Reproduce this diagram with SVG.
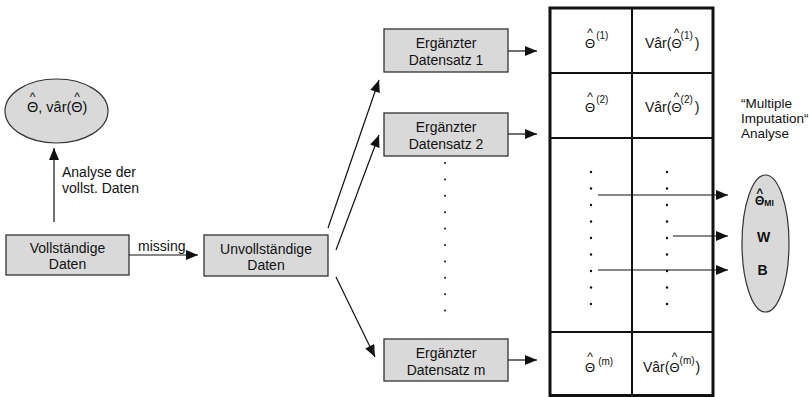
<svg xmlns="http://www.w3.org/2000/svg" width="809" height="397" viewBox="0 0 809 397">
<style>
text{font-family:"Liberation Sans",Arial,sans-serif;fill:#111}
.box{fill:#d9d9d9;stroke:#333;stroke-width:1.3}
.ell{fill:#d9d9d9;stroke:#333;stroke-width:1.2}
.lbl{font-size:14px;text-anchor:middle}
.conn{stroke:#111;stroke-width:1.2;fill:none;marker-end:url(#ah)}
.grid{stroke:#111;stroke-width:2;fill:none}
.cell{font-size:14px}
.th{font-size:13px}
.sup{font-size:10px}
.hat{font-size:12px;text-anchor:middle}
.dot{fill:#111}
.b{font-weight:bold}
</style>
<defs>
<marker id="ah" viewBox="0 0 12 10" refX="12" refY="5" markerWidth="13" markerHeight="10" orient="auto" markerUnits="userSpaceOnUse">
<path d="M0,0 L12,5 L0,10 z" fill="#111"/>
</marker>
</defs>

<g id="complete-estimate">
<ellipse class="ell" cx="56.5" cy="111" rx="51.5" ry="32"/>
<text x="27" y="112" font-size="14.5">Θ, vâr(Θ)</text>
<text class="hat" x="32.6" y="101" font-size="13">^</text>
<text class="hat" x="77" y="101" font-size="13">^</text>
</g>

<g id="analysis-label">
<text x="62" y="177" font-size="14">Analyse der</text>
<text x="62" y="193" font-size="14">vollst. Daten</text>
</g>

<g id="complete-data">
<rect class="box" x="6" y="235" width="123" height="40"/>
<text class="lbl" x="67.5" y="253">Vollständige</text>
<text class="lbl" x="67.5" y="269">Daten</text>
</g>

<g id="incomplete-data">
<rect class="box" x="204" y="235" width="124" height="41"/>
<text class="lbl" x="266" y="254">Unvollständige</text>
<text class="lbl" x="266" y="270">Daten</text>
</g>

<g id="imputed-1">
<rect class="box" x="384" y="29" width="124" height="43"/>
<text class="lbl" x="446" y="48">Ergänzter</text>
<text class="lbl" x="446" y="65">Datensatz 1</text>
</g>

<g id="imputed-2">
<rect class="box" x="384" y="113" width="124" height="43"/>
<text class="lbl" x="446" y="132">Ergänzter</text>
<text class="lbl" x="446" y="149">Datensatz 2</text>
</g>

<g id="imputed-m">
<rect class="box" x="384" y="339" width="124" height="42"/>
<text class="lbl" x="446" y="357.5">Ergänzter</text>
<text class="lbl" x="446" y="374.5">Datensatz m</text>
</g>

<g id="ellipsis-dots">
<circle class="dot" cx="445" cy="163" r="1"/>
<circle class="dot" cx="445" cy="179.4" r="1"/>
<circle class="dot" cx="445" cy="195.8" r="1"/>
<circle class="dot" cx="445" cy="212.2" r="1"/>
<circle class="dot" cx="445" cy="228.6" r="1"/>
<circle class="dot" cx="445" cy="245" r="1"/>
<circle class="dot" cx="445" cy="261.4" r="1"/>
<circle class="dot" cx="445" cy="277.8" r="1"/>
<circle class="dot" cx="445" cy="294.2" r="1"/>
<circle class="dot" cx="445" cy="310.6" r="1"/>
</g>

<g id="results-table">
<rect x="550" y="8" width="163" height="387.5" fill="#fff" stroke="#111" stroke-width="3"/>
<line class="grid" x1="632" y1="8" x2="632" y2="395.5"/>
<line class="grid" x1="550" y1="73" x2="713" y2="73"/>
<line class="grid" x1="550" y1="138" x2="713" y2="138"/>
<line class="grid" x1="550" y1="332" x2="713" y2="332"/>

<text class="cell" x="585" y="48"><tspan class="th">Θ</tspan><tspan class="sup" dx="1" dy="-9">(1)</tspan></text>
<text class="hat" x="590" y="37">^</text>
<text class="cell" x="645" y="48">Vâr(<tspan class="th">Θ</tspan><tspan class="sup" dx="-1" dy="-9">(1)</tspan><tspan dx="2" dy="9">)</tspan></text>
<text class="hat" x="676.5" y="37">^</text>

<text class="cell" x="585" y="112"><tspan class="th">Θ</tspan><tspan class="sup" dx="1" dy="-9">(2)</tspan></text>
<text class="hat" x="590" y="101">^</text>
<text class="cell" x="645" y="112">Vâr(<tspan class="th">Θ</tspan><tspan class="sup" dx="-1" dy="-9">(2)</tspan><tspan dx="2" dy="9">)</tspan></text>
<text class="hat" x="676.5" y="101">^</text>

<text class="cell" x="585" y="372"><tspan class="th">Θ</tspan><tspan class="sup" dx="3" dy="-7">(m)</tspan></text>
<text class="hat" x="590" y="361">^</text>
<text class="cell" x="643" y="372">Vâr(<tspan class="th">Θ</tspan><tspan class="sup" dy="-8">(m)</tspan><tspan dx="1" dy="8">)</tspan></text>
<text class="hat" x="674.5" y="361">^</text>

<circle class="dot" cx="591" cy="172" r="1.2"/>
<circle class="dot" cx="591" cy="188.5" r="1.2"/>
<circle class="dot" cx="591" cy="205" r="1.2"/>
<circle class="dot" cx="591" cy="221.5" r="1.2"/>
<circle class="dot" cx="591" cy="238" r="1.2"/>
<circle class="dot" cx="591" cy="254.5" r="1.2"/>
<circle class="dot" cx="591" cy="271" r="1.2"/>
<circle class="dot" cx="591" cy="287.5" r="1.2"/>
<circle class="dot" cx="591" cy="304" r="1.2"/>
<circle class="dot" cx="667" cy="172" r="1.2"/>
<circle class="dot" cx="667" cy="188.5" r="1.2"/>
<circle class="dot" cx="667" cy="205" r="1.2"/>
<circle class="dot" cx="667" cy="221.5" r="1.2"/>
<circle class="dot" cx="667" cy="238" r="1.2"/>
<circle class="dot" cx="667" cy="254.5" r="1.2"/>
<circle class="dot" cx="667" cy="271" r="1.2"/>
<circle class="dot" cx="667" cy="287.5" r="1.2"/>
<circle class="dot" cx="667" cy="304" r="1.2"/>
</g>

<g id="mi-label">
<text x="741" y="108" font-size="13.5">“Multiple</text>
<text x="741" y="123" font-size="13.5">Imputation“</text>
<text x="741" y="138" font-size="13.5">Analyse</text>
</g>

<g id="mi-result">
<ellipse class="ell" cx="765.5" cy="243.5" rx="23.5" ry="68.5"/>
<text x="755" y="205" font-size="12" class="b">Θ<tspan font-size="8.5" dy="1">MI</tspan></text>
<text class="hat b" x="759.7" y="197" font-size="10">^</text>
<text x="763.5" y="242" font-size="14" class="b" text-anchor="middle">W</text>
<text x="762.5" y="275" font-size="14" class="b" text-anchor="middle">B</text>
</g>

<g id="connectors">
<path class="conn" d="M54,222 L54,148"/>
<path class="conn" d="M129,255 L198,255"/>
<text x="138" y="251" font-size="14">missing</text>
<path class="conn" d="M328,228 L379,80"/>
<path class="conn" d="M336,250 L379,135"/>
<path class="conn" d="M336,277 L375,357"/>
<path class="conn" d="M508,51 L537,51"/>
<path class="conn" d="M508,134 L537,134"/>
<path class="conn" d="M508,360 L537,360"/>
<path class="conn" d="M598,195 L728,195"/>
<path class="conn" d="M673,236 L728,236"/>
<path class="conn" d="M598,270 L728,270"/>
</g>
</svg>
